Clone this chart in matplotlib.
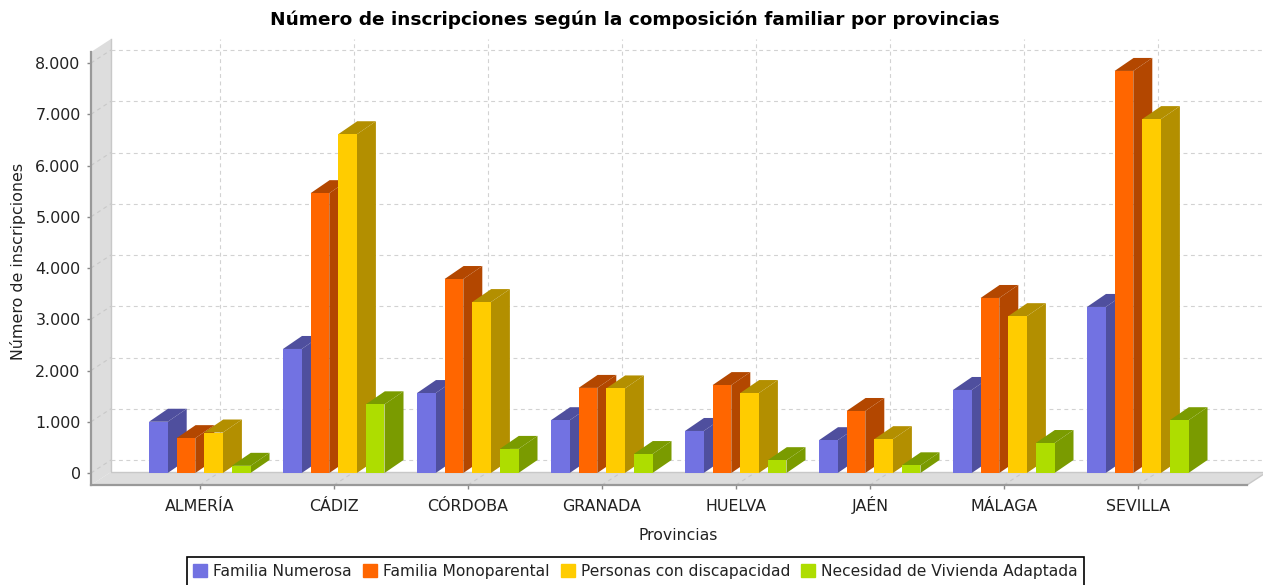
import numpy as np
import matplotlib.pyplot as plt
from matplotlib.patches import Patch

plt.rcParams['font.family'] = ['DejaVu Sans']

provincias = ['ALMERÍA', 'CÁDIZ', 'CÓRDOBA', 'GRANADA', 'HUELVA', 'JAÉN', 'MÁLAGA', 'SEVILLA']
numerosa = [1000, 2420, 1560, 1030, 820, 640, 1620, 3240]
monoparental = [680, 5460, 3785, 1660, 1715, 1210, 3415, 7845]
discapacidad = [790, 6610, 3335, 1650, 1560, 660, 3060, 6905]
adaptada = [140, 1340, 470, 370, 250, 150, 585, 1030]
yticks = [0, 1000, 2000, 3000, 4000, 5000, 6000, 7000, 8000]
ylabels = ['0', '1.000', '2.000', '3.000', '4.000', '5.000', '6.000', '7.000', '8.000']

series = [numerosa, monoparental, discapacidad, adaptada]
nombres = ['Familia Numerosa', 'Familia Monoparental', 'Personas con discapacidad', 'Necesidad de Vivienda Adaptada']
frente = ['#7272E2', '#FF6600', '#FFCC00', '#AEDD00']
lado = ['#4F4F9E', '#B34700', '#B38F00', '#7A9B00']

W, H = 1263, 585
# axes box in pixels (front plane)
left, right, top, bottom = 91, 1247, 52, 485
px_x = 134.0
px_y = 0.05125
zero_y = 473

fig = plt.figure(figsize=(W / 100, H / 100), dpi=100)
ax = fig.add_axes([left / W, 1 - bottom / H, (right - left) / W, (bottom - top) / H])
ax.set_xlim((left - 200) / px_x, (right - 200) / px_x)
ax.set_ylim((zero_y - bottom) / px_y, (zero_y - top) / px_y)
x0, x1 = ax.get_xlim()
y0, y1 = ax.get_ylim()

dx = 20 / px_x
dy = 13 / px_y
pared = '#DDDDDD'
rejilla = '#D2D2D2'
guion = (0, (3.5, 3.2))

# left wall and floor
ax.fill([x0, x0 + dx, x0 + dx, x0], [y0, y0 + dy, y1 + dy, y1], color=pared, lw=0, clip_on=False, zorder=1)
ax.fill([x0, x0 + dx, x1 + dx, x1], [y0, y0 + dy, y0 + dy, y0], color=pared, lw=0, clip_on=False, zorder=1)
ax.plot([x0 + dx, x0 + dx, x1 + dx], [y1 + dy, y0 + dy, y0 + dy], color='#C8C8C8', lw=1, clip_on=False, zorder=2)
ax.plot([x1, x1 + dx], [y0, y0 + dy], color='#C8C8C8', lw=1, clip_on=False, zorder=2)

# grid
for v in np.arange(0, 8500, 1000):
    ax.plot([x0 + dx, x1 + dx], [v + dy, v + dy], color=rejilla, lw=0.8, ls=guion, clip_on=False, zorder=2)
    ax.plot([x0, x0 + dx], [v, v + dy], color='#C8C8C8', lw=0.8, ls=guion, clip_on=False, zorder=2)
for i in range(len(provincias)):
    ax.plot([i + dx, i + dx], [y0 + dy, y1 + dy], color=rejilla, lw=0.8, ls=guion, clip_on=False, zorder=2)
    ax.plot([i, i + dx], [y0, y0 + dy], color='#C8C8C8', lw=0.8, ls=guion, clip_on=False, zorder=2)

# bars
ancho = 18.7 / px_x
paso = 27.6 / px_x
inicio = -51 / px_x
bdx = 19 / px_x
for s, valores in enumerate(series):
    for i, v in enumerate(valores):
        xa = i + inicio + s * paso
        xb = xa + ancho
        z = 3 + i * 4 + s
        ax.fill([xb, xb + bdx, xb + bdx, xb], [0, dy, v + dy, v], color=lado[s], lw=0, clip_on=False, zorder=z)
        ax.fill([xa, xa + bdx, xb + bdx, xb], [v, v + dy, v + dy, v], color=lado[s], lw=0, clip_on=False, zorder=z)
        ax.bar(xa, v, width=ancho, align='edge', color=frente[s], lw=0, clip_on=False, zorder=z + 0.5)

ax.set_xticks(range(len(provincias)))
ax.set_xticklabels(provincias, va='baseline')
ax.set_yticks(yticks)
ax.set_yticklabels(ylabels)
ax.tick_params(axis='both', labelsize=11.4, labelcolor='#222222', length=3, width=1, color='#888888')
ax.tick_params(axis='x', pad=15.7)
ax.tick_params(axis='y', pad=4.5)
for lado_eje in ['top', 'right']:
    ax.spines[lado_eje].set_visible(False)
for lado_eje in ['left', 'bottom']:
    ax.spines[lado_eje].set_color('#999999')
    ax.spines[lado_eje].set_linewidth(1.6)
    ax.spines[lado_eje].set_zorder(50)
ax.patch.set_visible(False)

fig.text(635 / W, 1 - 20 / H, 'Número de inscripciones según la composición familiar por provincias',
         ha='center', va='center', fontsize=13.3, fontweight='bold', color='black')
fig.text(678 / W, 1 - 536 / H, 'Provincias', ha='center', va='center', fontsize=11.3, color='#222222')
fig.text(18 / W, 1 - 261 / H, 'Número de inscripciones', ha='center', va='center', rotation=90, fontsize=11.4, color='#222222')

handles = [Patch(color=c) for c in frente]
ley = fig.legend(handles, nombres, ncol=4, loc='center', bbox_to_anchor=(635.5 / W, 1 - 571.5 / H),
                 fontsize=11.2, fancybox=False, framealpha=1, edgecolor='black', handlelength=0.9, handleheight=0.9,
                 columnspacing=0.7, handletextpad=0.4, borderpad=0.42, borderaxespad=0)
ley.get_frame().set_linewidth(1.2)
for t in ley.get_texts():
    t.set_color('#222222')

fig.savefig('out.png', dpi=100)
